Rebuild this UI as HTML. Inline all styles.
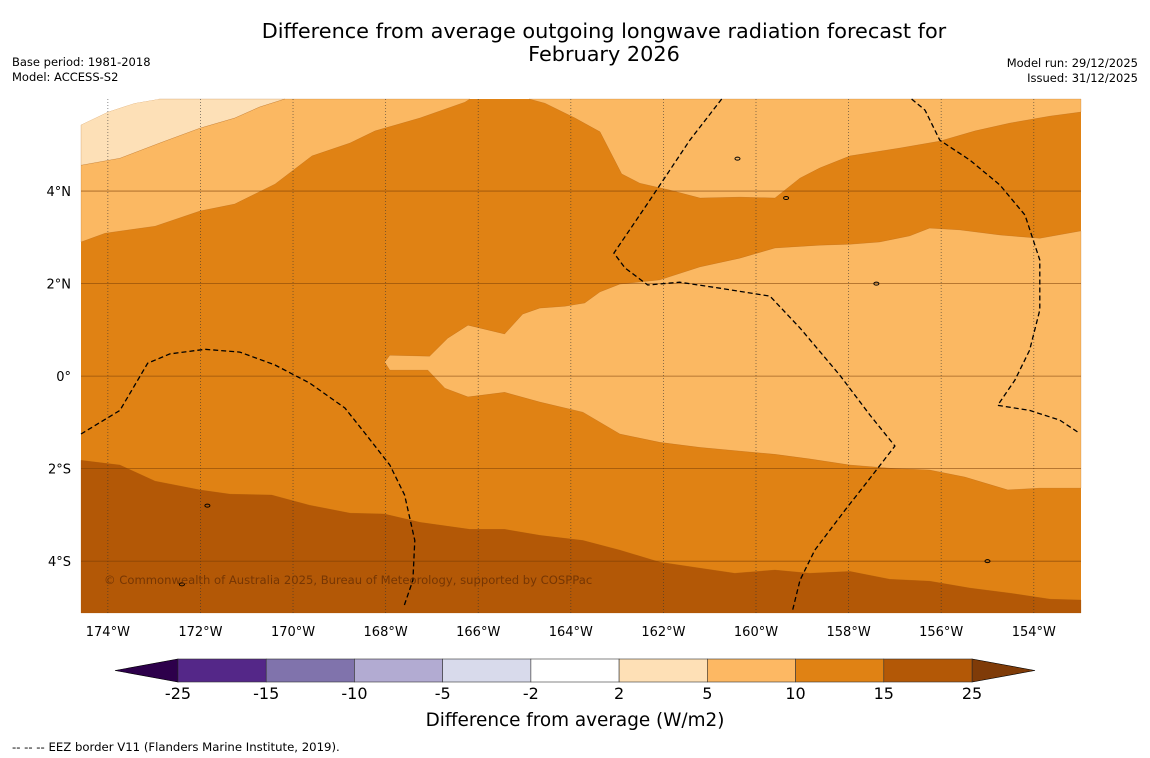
<!DOCTYPE html>
<html><head><meta charset="utf-8"><style>
body{margin:0;background:#fff;width:1150px;height:758px;overflow:hidden;font-family:"DejaVu Sans","Liberation Sans",sans-serif}
svg{position:absolute;left:0;top:0}
</style></head><body>
<svg id="s" width="1150" height="758" viewBox="0 0 1150 758">
<text x="604" y="38" text-anchor="middle" font-size="20.8">Difference from average outgoing longwave radiation forecast for</text>
<text x="604" y="61" text-anchor="middle" font-size="20.8">February 2026</text>
<text x="12" y="66" font-size="11.5">Base period: 1981-2018</text>
<text x="12" y="81" font-size="11.5">Model: ACCESS-S2</text>
<text x="1138" y="67" font-size="11.5" text-anchor="end">Model run: 29/12/2025</text>
<text x="1138" y="82" font-size="11.5" text-anchor="end">Issued: 31/12/2025</text>
<g id="map"></g>
<g id="cb"></g>
<text x="575" y="726" text-anchor="middle" font-size="18.4">Difference from average (W/m2)</text>
<text x="12" y="751" font-size="11.7">--  --  -- EEZ border V11 (Flanders Marine Institute, 2019).</text>
</svg>
<script>
const NS="http://www.w3.org/2000/svg";
const X0=81,X1=1081,Y0=99,Y1=613;
const lonMin=-174.58,lonMax=-152.98,latMin=-5.12,latMax=5.99;
const fx=l=>X0+(l-lonMin)/(lonMax-lonMin)*(X1-X0);
const fy=l=>Y0+(latMax-l)/(latMax-latMin)*(Y1-Y0);
const lonTicks=[-174,-172,-170,-168,-166,-164,-162,-160,-158,-156,-154];
const latTicks=[4,2,0,-2,-4];
const levels=["-25","-15","-10","-5","-2","2","5","10","15","25"];
const cbColors=["#542788","#8073ac","#b2abd2","#d8daeb","#ffffff","#fee0b6","#fdb863","#e08214","#b35806"];
const whiteCorner=[[-174.58,5.99],[-174.58,5.43],[-174,5.71],[-173.42,5.90],[-172.88,5.99]];
const band2to5=[[-174.58,5.43],[-174,5.71],[-173.42,5.90],[-172.88,5.99],[-170.18,5.99],[-170.72,5.82],[-171.26,5.58],[-172.01,5.36],[-172.88,5.04],[-173.74,4.71],[-174.58,4.56]];
const band5to10TL=[[-174.58,4.56],[-173.74,4.71],[-172.88,5.04],[-172.01,5.36],[-171.26,5.58],[-170.72,5.82],[-170.18,5.99],[-166.18,5.99],[-166.29,5.92],[-167.26,5.58],[-168.23,5.30],[-168.77,5.04],[-169.59,4.76],[-170.39,4.15],[-171.26,3.72],[-172.01,3.57],[-172.98,3.24],[-174.06,3.09],[-174.58,2.90]];
const band5to10TR=[[-164.9,5.99],[-164.56,5.90],[-163.91,5.58],[-163.37,5.28],[-162.90,4.37],[-162.51,4.17],[-161.86,4.02],[-161.21,3.85],[-160.35,3.87],[-159.59,3.85],[-159.05,4.28],[-158.62,4.50],[-157.97,4.76],[-156.89,4.93],[-156.03,5.08],[-155.27,5.30],[-154.52,5.47],[-153.65,5.62],[-152.98,5.71],[-152.98,5.99]];
const band5to10Mid=[[-152.98,3.14],[-153.87,2.98],[-154.73,3.05],[-155.60,3.16],[-156.25,3.20],[-156.68,3.03],[-157.33,2.90],[-157.97,2.85],[-158.62,2.83],[-159.59,2.77],[-160.35,2.55],[-161.21,2.36],[-162.08,2.08],[-162.94,1.99],[-163.37,1.82],[-163.70,1.58],[-164.13,1.51],[-164.67,1.47],[-165.04,1.34],[-165.43,0.91],[-166.22,1.10],[-166.66,0.82],[-167.05,0.43],[-167.91,0.45],[-168.02,0.30],[-167.91,0.13],[-167.09,0.13],[-166.72,-0.26],[-166.22,-0.45],[-165.43,-0.35],[-164.67,-0.56],[-163.74,-0.78],[-162.94,-1.25],[-162.08,-1.43],[-161.21,-1.54],[-160.35,-1.62],[-159.59,-1.69],[-158.84,-1.79],[-157.97,-1.92],[-157.11,-1.99],[-156.25,-2.03],[-155.49,-2.18],[-154.56,-2.46],[-153.87,-2.42],[-152.98,-2.42]];
const band15to25=[[-174.58,-1.82],[-173.74,-1.92],[-172.98,-2.27],[-172.01,-2.46],[-171.36,-2.55],[-170.46,-2.57],[-169.64,-2.79],[-168.77,-2.96],[-168.02,-2.98],[-167.26,-3.16],[-166.18,-3.31],[-165.43,-3.31],[-164.67,-3.44],[-163.74,-3.55],[-162.94,-3.76],[-162.08,-4.02],[-161.21,-4.15],[-160.46,-4.26],[-159.59,-4.19],[-158.84,-4.26],[-157.97,-4.22],[-157.11,-4.39],[-156.25,-4.43],[-155.38,-4.58],[-154.52,-4.69],[-153.65,-4.82],[-152.98,-4.84],[-152.98,-5.12],[-174.58,-5.12]];
const eezA=[[-174.58,-1.25],[-173.74,-0.74],[-173.14,0.28],[-172.66,0.48],[-171.90,0.58],[-171.15,0.52],[-170.39,0.24],[-169.64,-0.15],[-168.88,-0.69],[-168.45,-1.23],[-167.91,-1.92],[-167.59,-2.57],[-167.37,-3.55],[-167.41,-4.41],[-167.61,-4.99]];
const eezB=[[-160.74,5.99],[-161.43,5.10],[-162.29,3.81],[-163.07,2.66],[-162.83,2.34],[-162.34,1.97],[-161.65,2.03],[-160.78,1.90],[-159.70,1.73],[-159.05,1.04],[-158.19,0.02],[-157.54,-0.84],[-157.00,-1.51],[-157.54,-2.21],[-158.08,-2.90],[-158.73,-3.76],[-159.05,-4.41],[-159.21,-5.06]];
const eezC=[[-156.64,5.99],[-156.35,5.75],[-156.03,5.10],[-155.38,4.67],[-154.73,4.13],[-154.19,3.48],[-153.87,2.51],[-153.87,1.43],[-154.09,0.56],[-154.41,-0.09],[-154.78,-0.63],[-154.09,-0.74],[-153.44,-0.95],[-153.05,-1.21]];
const islands=[[-157.4,2.0],[-159.35,3.85],[-171.85,-2.8],[-172.4,-4.5],[-155.0,-4.0],[-160.4,4.7]];
function mk(t,a,p){const e=document.createElementNS(NS,t);for(const k in a)e.setAttribute(k,a[k]);p.appendChild(e);return e;}
const map=document.getElementById('map');
const pts=a=>a.map(p=>fx(p[0]).toFixed(1)+','+fy(p[1]).toFixed(1)).join(' ');
let bg=mk('rect',{x:X0,y:Y0,width:X1-X0,height:Y1-Y0,fill:'#e08214'},map);


const fills=[[band15to25,'#b35806','contour-15-25'],[band5to10Mid,'#fbb862','contour-5-10-central'],[band5to10TL,'#fbb862','contour-5-10-northwest'],[band5to10TR,'#fbb862','contour-5-10-northeast'],[band2to5,'#fde0b7','contour-2-5'],[whiteCorner,'#ffffff','contour-neutral']];
fills.forEach(f=>{const e=mk('polygon',{points:pts(f[0]),fill:f[1],stroke:f[1]==='#ffffff'?'none':'#a0520a','stroke-width':0.4,'stroke-opacity':0.5},map);

});
lonTicks.forEach(l=>{const x=fx(l);
const g=mk('line',{x1:x,x2:x,y1:Y0,y2:Y1,stroke:'#333','stroke-width':0.8,'stroke-dasharray':'1,2','stroke-opacity':0.7},map);


const t=mk('text',{x:x,y:636,'text-anchor':'middle','font-size':13},map);t.textContent=Math.abs(l)+'°W';

});
latTicks.forEach(l=>{const y=fy(l);
const g=mk('line',{x1:X0,x2:X1,y1:y,y2:y,stroke:'#7a3d05','stroke-width':0.8,'stroke-opacity':0.7},map);


const t=mk('text',{x:71,y:y+5,'text-anchor':'end','font-size':13},map);t.textContent=l===0?'0°':Math.abs(l)+'°'+(l>0?'N':'S');

});
[eezA,eezB,eezC].forEach(a=>{const e=mk('polyline',{points:pts(a),fill:'none',stroke:'#000','stroke-width':1.3,'stroke-dasharray':'5,3'},map);

});
islands.forEach(p=>{const e=mk('ellipse',{cx:fx(p[0]),cy:fy(p[1]),rx:2.5,ry:1.5,fill:'none',stroke:'#000','stroke-width':1},map);

});
const cp=mk('text',{x:104,y:584,'font-size':11.6,fill:'#6b3003','fill-opacity':0.85},map);cp.textContent='© Commonwealth of Australia 2025, Bureau of Meteorology, supported by COSPPac';


const cb=document.getElementById('cb');
const cbx0=178,cbx1=972,cby=659,cbh=23,w=(cbx1-cbx0)/cbColors.length;
const lt=mk('polygon',{points:`115,670.5 ${cbx0},${cby} ${cbx0},${cby+cbh}`,fill:'#2d004b',stroke:'#000','stroke-width':0.6},cb);


const rt=mk('polygon',{points:`1035,670.5 ${cbx1},${cby} ${cbx1},${cby+cbh}`,fill:'#7f3b08',stroke:'#000','stroke-width':0.6},cb);


cbColors.forEach((c,i)=>{const r=mk('rect',{x:cbx0+i*w,y:cby,width:w,height:cbh,fill:c,stroke:'#333','stroke-width':0.6},cb);

});
levels.forEach((l,i)=>{const t=mk('text',{x:cbx0+i*w,y:699,'text-anchor':'middle','font-size':16},cb);t.textContent=l;

});
</script>
</body></html>
